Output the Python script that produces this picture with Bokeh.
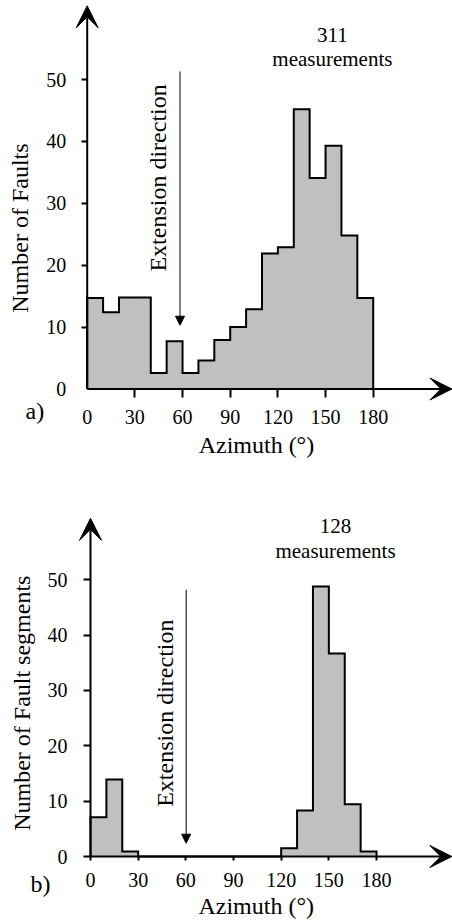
from bokeh.plotting import figure
from bokeh.models import (Range1d, FixedTicker, Arrow, VeeHead, NormalHead, Label,
                          LinearAxis)
from bokeh.layouts import column
from bokeh.embed import file_html
from bokeh.resources import INLINE

# ---------------- data ----------------
azimuth_edges = list(range(0, 190, 10))          # 10-degree bins, 0..180
faults = [14.7, 12.4, 14.8, 14.8, 2.6, 7.7, 2.6, 4.6, 7.9, 10.0,
          12.9, 21.9, 22.9, 45.2, 34.1, 39.3, 24.8, 14.7]
segments = [7.1, 13.9, 0.9, 0, 0, 0, 0, 0, 0, 0,
            0, 0, 1.5, 8.3, 48.8, 36.7, 9.45, 0.9]
x_ticks = [0, 30, 60, 90, 120, 150, 180]
y_ticks = [0, 10, 20, 30, 40, 50]
extension_azimuth_a = 58.4
extension_azimuth_b = 60.2
count_a = "311"
count_b = "128"

FONT = "Liberation Serif"
FILL = "#c0c0c0"
W = 452
TEXT_SHIFT = 8      # px: compensates where the renderer puts the baseline
ROT_SHIFT = 9


def style_axis(ax, ticks, tout, stand):
    ax.ticker = FixedTicker(ticks=ticks)
    ax.axis_line_color = None
    ax.major_tick_in = 0
    ax.major_tick_out = tout
    ax.major_tick_line_width = 2
    ax.major_tick_line_color = "black" if tout > 0 else None
    ax.minor_tick_line_color = None
    ax.major_label_standoff = stand
    ax.major_label_text_font = FONT
    ax.major_label_text_font_size = "20px"
    ax.major_label_text_color = "black"


def panel(values, ylabel, count, ext_az, ext_y0, ext_y1, letter,
          height, axis_px, base_px, ppx, ppy, zero_tick, lab):
    # whole canvas is the plotting frame; ranges set so that the origin sits
    # at (axis_px, base_px) pixels from the canvas' top-left corner
    x0 = -axis_px / ppx
    x1 = (W - axis_px) / ppx
    y0 = -(height - base_px) / ppy
    y1 = base_px / ppy
    dy = TEXT_SHIFT / ppy
    dx = ROT_SHIFT / ppx
    p = figure(width=W, height=height, output_backend="svg",
               toolbar_location=None, title=None,
               x_range=Range1d(x0, x1), y_range=Range1d(y0, y1),
               x_axis_location=None, y_axis_location=None,
               min_border=0, min_border_left=0, min_border_right=0,
               min_border_top=0, min_border_bottom=0)
    p.outline_line_color = None
    p.grid.visible = False
    p.background_fill_color = "white"
    p.border_fill_color = "white"

    if zero_tick:
        xt, yt = x_ticks, y_ticks
    else:
        xt, yt = x_ticks[1:], y_ticks[1:]
        x0ax = LinearAxis(fixed_location=0)
        y0ax = LinearAxis(fixed_location=0)
        p.add_layout(x0ax, "below")
        p.add_layout(y0ax, "left")
        style_axis(x0ax, x_ticks[:1], 0, lab["xto"] + lab["xst"])
        style_axis(y0ax, y_ticks[:1], 0, lab["yto"] + lab["yst"])
    xax = LinearAxis(fixed_location=0)
    yax = LinearAxis(fixed_location=0)
    p.add_layout(xax, "below")
    p.add_layout(yax, "left")
    style_axis(xax, xt, lab["xto"], lab["xst"])
    style_axis(yax, yt, lab["yto"], lab["yst"])

    lefts = azimuth_edges[:-1]
    rights = azimuth_edges[1:]
    p.quad(left=lefts, right=rights, bottom=0, top=values,
           fill_color=FILL, line_color=FILL, line_width=1)
    sx = [azimuth_edges[0]] + lefts + [azimuth_edges[-1]]
    sy = [0] + values + [0]
    p.step(x=sx, y=sy, mode="after", line_color="black", line_width=2,
           line_join="miter")

    # axes as arrows
    p.add_layout(Arrow(end=VeeHead(size=22, fill_color="black", line_color="black",
                                   line_width=1),
                       x_start=0, y_start=0, x_end=x1 - 0.4, y_end=0,
                       line_width=2, line_color="black"))
    p.add_layout(Arrow(end=VeeHead(size=22, fill_color="black", line_color="black",
                                   line_width=1),
                       x_start=0, y_start=0, x_end=0, y_end=lab["ytip"],
                       line_width=2, line_color="black"))

    # extension direction arrow
    p.add_layout(Arrow(end=NormalHead(size=9, fill_color="black", line_color="black",
                                      line_width=1),
                       x_start=ext_az, y_start=ext_y0, x_end=ext_az, y_end=ext_y1,
                       line_width=1, line_color="black"))
    p.add_layout(Label(x=lab["extx"] - dx, y=lab["exty"], text="Extension direction",
                       angle=1.5707963, text_align="center",
                       text_baseline="alphabetic", text_font=FONT,
                       text_font_size="24px", text_color="black"))

    p.add_layout(Label(x=lab["cx"], y=lab["c1"] + dy, text=count, text_align="center",
                       text_baseline="alphabetic", text_font=FONT,
                       text_font_size="21px", text_color="black"))
    p.add_layout(Label(x=lab["cx"], y=lab["c2"] + dy, text="measurements",
                       text_align="center", text_baseline="alphabetic",
                       text_font=FONT, text_font_size="21px", text_color="black"))

    p.add_layout(Label(x=lab["ylx"] - dx, y=lab["yly"], text=ylabel, angle=1.5707963,
                       text_align="center", text_baseline="alphabetic",
                       text_font=FONT, text_font_size="24px", text_color="black"))
    p.add_layout(Label(x=lab["xlx"], y=lab["xly"] + dy, text="Azimuth (°)",
                       text_align="center", text_baseline="alphabetic",
                       text_font=FONT, text_font_size="24px", text_color="black"))
    p.add_layout(Label(x=lab["lx"], y=lab["ly"] + dy, text=letter,
                       text_align="left", text_baseline="alphabetic",
                       text_font=FONT, text_font_size="24px", text_color="black"))
    return p


pa = panel(faults, "Number of Faults", count_a, extension_azimuth_a, 51.3, 10.3, "a)",
           height=460, axis_px=86.7, base_px=388.5, ppx=1.589, ppy=6.19,
           zero_tick=False,
           lab=dict(xto=8, xst=13, yto=6, yst=15, ytip=61.9, extx=50.5, exty=34.1,
                    cx=154.3, c1=55.9, c2=52.0, ylx=-36.9, yly=26.0,
                    xlx=106.5, xly=-10.4, lx=-38.8, ly=-4.8))
pb = panel(segments, "Number of Fault segments", count_b, extension_azimuth_b, 48.2, 2.4, "b)",
           height=461, axis_px=90.0, base_px=396.0, ppx=1.589, ppy=5.534,
           zero_tick=True,
           lab=dict(xto=4, xst=12, yto=7, yst=16, ytip=61.1, extx=52.4, exty=25.9,
                    cx=154.2, c1=58.3, c2=53.8, ylx=-37.4, yly=27.7,
                    xlx=104.3, xly=-10.4, lx=-37.8, ly=-6.4))

layout = column(pa, pb, spacing=0)
open("out.html", "w").write(file_html(layout, INLINE))
